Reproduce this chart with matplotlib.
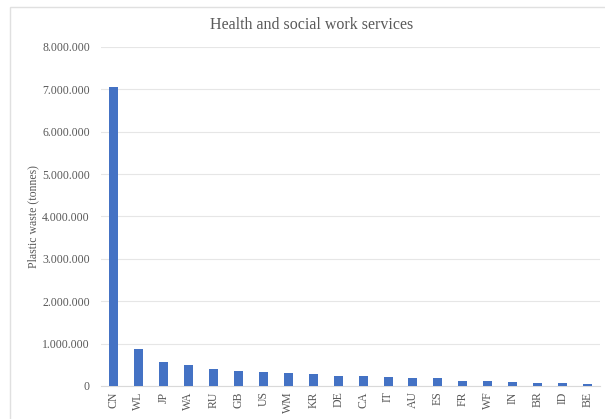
import matplotlib.pyplot as plt
from matplotlib.patches import Rectangle
from matplotlib.ticker import FuncFormatter, MultipleLocator

# values
countries = ['CN', 'WL', 'JP', 'WA', 'RU', 'GB', 'US', 'WM', 'KR', 'DE',
             'CA', 'IT', 'AU', 'ES', 'FR', 'WF', 'IN', 'BR', 'ID', 'BE']
waste = [7050000, 870000, 570000, 500000, 410000, 360000, 320000, 295000,
         275000, 245000, 235000, 220000, 195000, 190000, 110000, 110000,
         90000, 68000, 65000, 50000]

grey = '#595959'
plt.rcParams['font.family'] = ['Liberation Serif', 'DejaVu Serif']

fig = plt.figure(figsize=(6.05, 4.19), dpi=100)
ax = fig.add_axes([0.167, 0.079, 0.825, 0.809])

# light chart frame like the spreadsheet export
fig.patches.append(Rectangle((10 / 605, -0.1), 1.0, 1.1 - 7 / 419, transform=fig.transFigure,
                             fill=False, edgecolor='#e0e0e0', linewidth=1))

ax.bar(countries, waste, width=0.36, color='#4472C4', zorder=3)

ax.set_ylim(0, 8000000)
ax.set_xlim(-0.5, len(countries) - 0.5)
ax.yaxis.set_major_locator(MultipleLocator(1000000))
ax.yaxis.set_major_formatter(FuncFormatter(lambda v, p: f"{int(v):,}".replace(",", ".")))
ax.grid(axis='y', color='#e6e6e6', linewidth=0.8, zorder=0)

for s in ['top', 'right', 'left']:
    ax.spines[s].set_visible(False)
ax.spines['bottom'].set_color('#d9d9d9')

ax.tick_params(axis='y', length=0, labelsize=8.5, labelcolor=grey, pad=8)
ax.tick_params(axis='x', length=0, labelsize=8.5, labelcolor=grey, rotation=90, pad=4)

ax.set_ylabel('Plastic waste (tonnes)', fontsize=8.5, color=grey, labelpad=2)
fig.text(0.515, 0.94, 'Health and social work services', ha='center', va='center',
         fontsize=11.5, color=grey)

fig.savefig('out.png', dpi=100)
